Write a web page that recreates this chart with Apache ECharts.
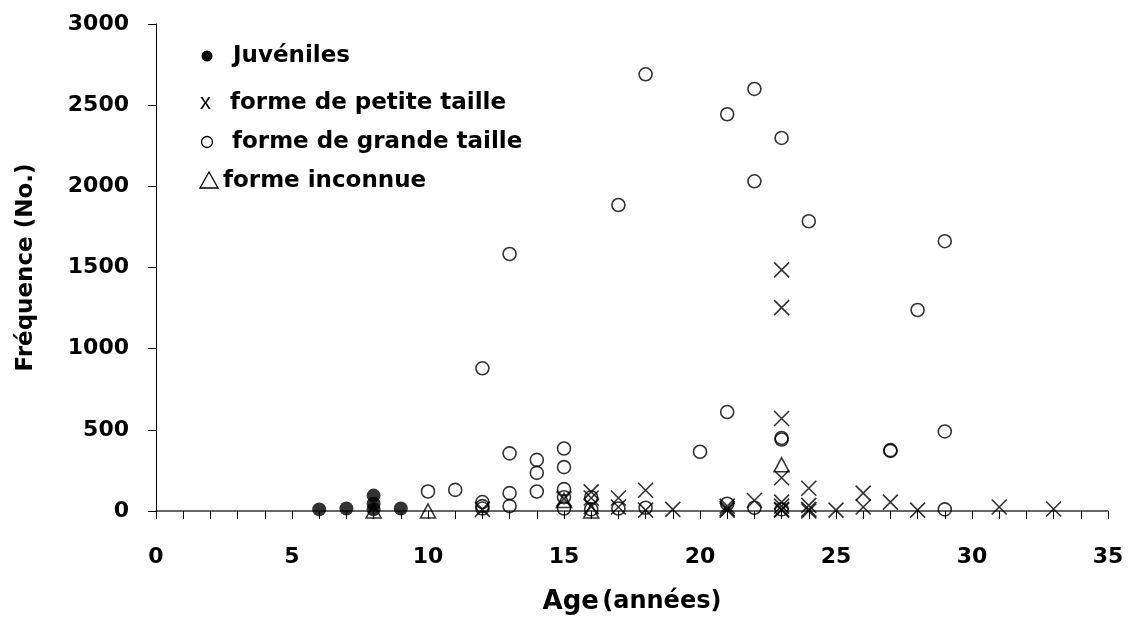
<!DOCTYPE html>
<html>
<head>
<meta charset="utf-8">
<script src="https://cdn.jsdelivr.net/npm/echarts@6/dist/echarts.min.js"></script>
<style>html,body{margin:0;padding:0;background:#fff}#c{width:1128px;height:636px}</style>
</head>
<body>
<div id="c"></div>
<script>
const juvX = [6, 7, 8, 8, 8, 9];
const juvY = [10, 15, 95, 45, 10, 15];

const smallX = [12, 15, 16, 16, 16, 17, 17, 18, 18, 19, 21, 21, 21, 22, 23, 23, 23, 23, 23, 23, 23, 23, 24, 24, 24, 24, 25, 26, 26, 27, 28, 31, 33];
const smallY = [10, 75, 118, 80, 27, 80, 25, 128, 5, 10, 30, 15, 5, 65, 1485, 1253, 570, 205, 55, 30, 10, 5, 140, 35, 10, 0, 5, 110, 25, 55, 5, 25, 12];

const largeX = [10, 11, 12, 12, 12, 12, 13, 13, 13, 13, 14, 14, 14, 15, 15, 15, 15, 15, 16, 16, 17, 17, 18, 18, 20, 21, 21, 21, 22, 22, 22, 23, 23, 23, 23, 24, 27, 27, 28, 29, 29, 29];
const largeY = [120, 130, 879, 55, 30, 15, 1583, 355, 110, 30, 315, 235, 120, 385, 270, 135, 85, 15, 85, 10, 1885, 15, 2690, 20, 365, 2444, 610, 45, 2600, 2031, 20, 2298, 450, 440, 10, 1785, 375, 370, 1238, 1662, 490, 10];

const unkX = [8, 10, 15, 16, 23];
const unkY = [0, 0, 65, 0, 285];

const seriesNames = ['Juvéniles', 'forme de petite taille', 'forme de grande taille', 'forme inconnue'];
const xTickLabels = [0, 5, 10, 15, 20, 25, 30, 35];
const yTickLabels = [0, 500, 1000, 1500, 2000, 2500, 3000];

function pairs(xs, ys) { return xs.map((x, i) => [x, ys[i]]); }

const FONT = 'DejaVu Sans';
const chart = echarts.init(document.getElementById('c'), null, { renderer: 'canvas' });

chart.setOption({
  animation: false,
  backgroundColor: '#fff',
  grid: { left: 156, right: 20, top: 24, bottom: 125, containLabel: false },
  xAxis: {
    type: 'value', min: 0, max: 35, interval: 1,
    name: '{a|Age} {b|(années)}',
    nameLocation: 'middle', nameGap: 78,
    nameTextStyle: {
      rich: {
        a: { fontFamily: FONT, fontWeight: 'bold', fontSize: 26, color: '#000' },
        b: { fontFamily: FONT, fontWeight: 'bold', fontSize: 24, color: '#000' }
      }
    },
    axisLine: { show: true, onZero: false, lineStyle: { color: '#333', width: 1.5 } },
    axisTick: { show: true, inside: false, length: 8, lineStyle: { color: '#000', width: 1 } },
    axisLabel: {
      margin: 35, fontFamily: FONT, fontWeight: 'bold', fontSize: 22, color: '#000',
      formatter: v => xTickLabels.includes(v) ? String(v) : ''
    },
    splitLine: { show: false }
  },
  yAxis: {
    type: 'value', min: 0, max: 3000, interval: 500,
    name: 'Fréquence (No.)',
    nameLocation: 'middle', nameGap: 118, nameRotate: 90,
    nameTextStyle: { fontFamily: FONT, fontWeight: 'bold', fontSize: 23, color: '#000' },
    axisLine: { show: true, lineStyle: { color: '#000', width: 1 } },
    axisTick: { show: true, inside: false, length: 8, lineStyle: { color: '#000', width: 1 } },
    axisLabel: {
      margin: 27, fontFamily: FONT, fontWeight: 'bold', fontSize: 22, color: '#000',
      formatter: v => yTickLabels.includes(v) ? String(v) : ''
    },
    splitLine: { show: false }
  },
  series: [
    {
      name: seriesNames[0], type: 'scatter', clip: false,
      data: pairs(juvX, juvY), symbol: 'circle', symbolSize: 14,
      itemStyle: { color: '#000' }
    },
    {
      name: seriesNames[1], type: 'scatter', clip: false,
      data: pairs(smallX, smallY), symbol: 'path://M0,0L10,10M10,0L0,10', symbolSize: 15,
      itemStyle: { color: 'none', borderColor: '#000', borderWidth: 1.6 }
    },
    {
      name: seriesNames[2], type: 'scatter', clip: false,
      data: pairs(largeX, largeY), symbol: 'circle', symbolSize: 13,
      itemStyle: { color: 'rgba(0,0,0,0)', borderColor: '#000', borderWidth: 1.6 }
    },
    {
      name: seriesNames[3], type: 'scatter', clip: false,
      data: pairs(unkX, unkY), symbol: 'triangle', symbolSize: [15, 14],
      itemStyle: { color: 'rgba(0,0,0,0)', borderColor: '#000', borderWidth: 1.6 }
    }
  ],
  graphic: [
    { type: 'circle', shape: { cx: 207, cy: 56, r: 5.5 }, style: { fill: '#000' } },
    { type: 'text', left: 233, top: 45, style: { text: seriesNames[0], font: 'bold 23px "DejaVu Sans"', fill: '#000' } },
    { type: 'text', left: 200, top: 92, style: { text: 'x', font: '22px "Liberation Sans"', fill: '#000' } },
    { type: 'text', left: 230, top: 92, style: { text: seriesNames[1], font: 'bold 23px "DejaVu Sans"', fill: '#000' } },
    { type: 'circle', shape: { cx: 207, cy: 142, r: 5.5 }, style: { fill: 'none', stroke: '#000', lineWidth: 1.3 } },
    { type: 'text', left: 232, top: 131, style: { text: seriesNames[2], font: 'bold 23px "DejaVu Sans"', fill: '#000' } },
    { type: 'polygon', shape: { points: [[209, 172], [200, 188], [218, 188]] }, style: { fill: 'none', stroke: '#000', lineWidth: 1.3 } },
    { type: 'text', left: 223, top: 170, style: { text: seriesNames[3], font: 'bold 23px "DejaVu Sans"', fill: '#000' } }
  ]
});
</script>
</body>
</html>
